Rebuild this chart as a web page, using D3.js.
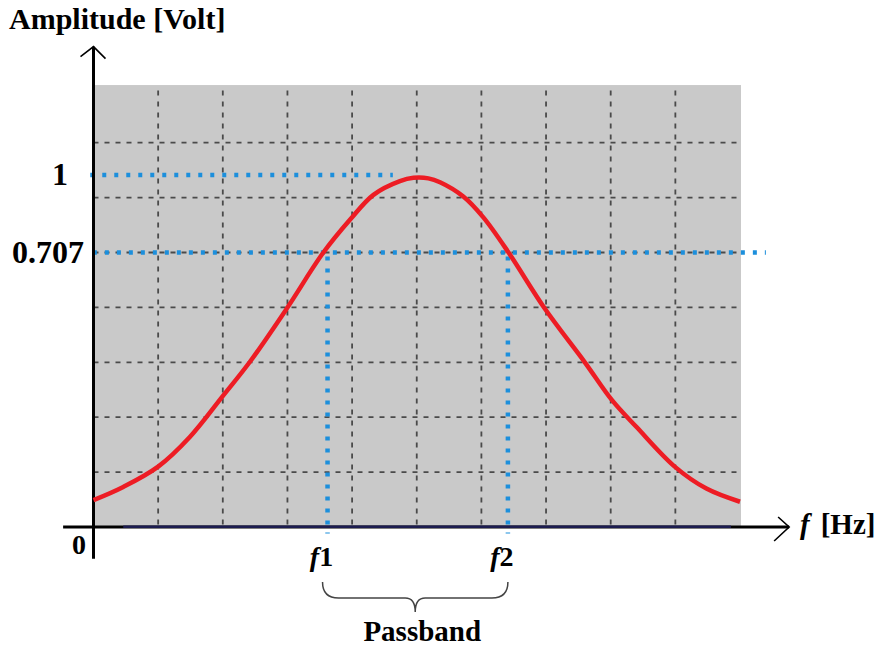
<!DOCTYPE html>
<html>
<head>
<meta charset="utf-8">
<script src="https://cdn.jsdelivr.net/npm/d3@7"></script>
<style>
  html, body { margin: 0; padding: 0; background: #ffffff; }
  svg { display: block; }
  text { font-family: "Liberation Serif", "Times New Roman", serif; font-weight: bold; fill: #000; }
</style>
</head>
<body>
<script>
// ---- data (grid units: 1 unit = one grid cell) ----
const curveX = [0, 0.46, 1.0, 1.49, 1.99, 2.42, 2.99, 3.55, 3.97, 4.33, 4.74, 4.95, 5.18, 5.36, 5.72, 6.03, 6.42, 6.98, 7.60, 8.02, 8.40, 8.99, 9.48, 10.0];
const curveY = [0.49, 0.73, 1.10, 1.64, 2.37, 3.01, 3.98, 4.99, 5.60, 6.05, 6.30, 6.36, 6.35, 6.28, 6.02, 5.64, 5.0, 3.98, 3.00, 2.31, 1.82, 1.10, 0.70, 0.46];
const xGridTicks = [1, 2, 3, 4, 5, 6, 7, 8, 9];
const yGridTicks = [1, 2, 3, 4, 5, 6, 7];
const yTickLabels = ["1", "0.707"];
const yTickLevels = [6.41, 5.0];
const fLabels = ["1", "2"];
const fPositions = [3.62, 6.41];
const peakX = 4.63;

const W = 882, H = 648;
const svg = d3.select("body").append("svg").attr("width", W).attr("height", H);

const x = d3.scaleLinear().domain([0, 10]).range([93.5, 740]);
const y = d3.scaleLinear().domain([0, 8]).range([527, 87.8]);

// gray plotting area
svg.append("rect")
  .attr("x", x(0)).attr("y", y(8.05))
  .attr("width", x(10) - x(0) + 1).attr("height", y(0) - y(8.05))
  .attr("fill", "#c9c9c9");

// grid
const grid = svg.append("g").attr("stroke", "#4a4a4a").attr("stroke-width", 1.8).attr("stroke-dasharray", "5,6");
grid.selectAll("line.v").data(xGridTicks).join("line").attr("class", "v")
  .attr("x1", d => x(d)).attr("x2", d => x(d))
  .attr("y1", y(7.95)).attr("y2", y(0));
grid.selectAll("line.h").data(yGridTicks).join("line").attr("class", "h")
  .attr("x1", x(0)).attr("x2", x(10))
  .attr("y1", d => y(d)).attr("y2", d => y(d));

// blue dotted reference lines
const blue = svg.append("g").attr("stroke", "#1c8fdc").attr("stroke-width", 4.5).attr("stroke-dasharray", "4,8").attr("fill", "none");
blue.append("line").attr("x1", x(-0.05)).attr("x2", x(peakX)).attr("y1", y(yTickLevels[0])).attr("y2", y(yTickLevels[0]));
blue.append("line").attr("x1", x(-0.01)).attr("x2", x(10.4)).attr("y1", y(yTickLevels[1])).attr("y2", y(yTickLevels[1]));
blue.selectAll("line.f").data(fPositions).join("line").attr("class", "f")
  .attr("x1", d => x(d)).attr("x2", d => x(d))
  .attr("y1", y(yTickLevels[1]) + 4).attr("y2", y(-0.12));

// axes
const axes = svg.append("g").attr("stroke", "#000").attr("fill", "none");
axes.append("line").attr("x1", x(-0.47)).attr("x2", x(10.76)).attr("y1", y(0)).attr("y2", y(0)).attr("stroke-width", 3);
axes.append("line").attr("x1", x(0.46)).attr("x2", x(9.86)).attr("y1", y(0) - 0.3).attr("y2", y(0) - 0.3)
  .attr("stroke", "#1c1c50").attr("stroke-width", 2.6);
axes.append("line").attr("x1", x(0)).attr("x2", x(0)).attr("y1", y(-0.58)).attr("y2", y(8.75)).attr("stroke-width", 3);
// arrowheads
axes.append("path").attr("stroke-width", 1.6)
  .attr("d", `M${x(0) - 13},${y(8.75) + 10} L${x(0)},${y(8.75)} L${x(0) + 12},${y(8.75) + 12}`);
axes.append("path").attr("stroke-width", 1.6)
  .attr("d", `M${x(10.76) - 11},${y(0) - 10} L${x(10.76)},${y(0)} L${x(10.76) - 15},${y(0) + 14}`);

// curve
const line = d3.line().x(d => x(d[0])).y(d => y(d[1])).curve(d3.curveCatmullRom.alpha(0.5));
svg.append("path").datum(curveX.map((v, i) => [v, curveY[i]]))
  .attr("d", line).attr("fill", "none").attr("stroke", "#ed1c24").attr("stroke-width", 4.5)
  .attr("stroke-linejoin", "round");

// texts
svg.append("text").attr("x", 9).attr("y", 29).attr("font-size", 30).text("Amplitude [Volt]");
svg.selectAll("text.yl").data(yTickLabels).join("text").attr("class", "yl")
  .attr("x", (d, i) => i === 0 ? 68 : 84)
  .attr("y", (d, i) => y(yTickLevels[i]) + 10)
  .attr("text-anchor", "end").attr("font-size", 32).text(d => d);
svg.append("text").attr("x", 86).attr("y", 554).attr("text-anchor", "end").attr("font-size", 28).text("0");

const fl = svg.selectAll("text.fl").data(fLabels).join("text").attr("class", "fl")
  .attr("x", (d, i) => x(fPositions[i]) - 6).attr("y", 566)
  .attr("text-anchor", "middle").attr("font-size", 28);
fl.append("tspan").attr("font-style", "italic").text("f");
fl.append("tspan").text(d => d);

const ax = svg.append("text").attr("x", 800).attr("y", 534).attr("font-size", 29);
ax.append("tspan").attr("font-style", "italic").text("f");
ax.append("tspan").attr("dx", 11).text("[Hz]");

// brace
const bx1 = x(fPositions[0]) - 5, bx2 = x(fPositions[1]), bm = (bx1 + bx2) / 2;
const bt = 582, bh = 598, bp = 612;
svg.append("path").attr("fill", "none").attr("stroke", "#444").attr("stroke-width", 1.5)
  .attr("d", `M${bx1},${bt} Q${bx1},${bh} ${bx1 + 16},${bh} L${bm - 10},${bh} Q${bm},${bh} ${bm},${bp} Q${bm},${bh} ${bm + 10},${bh} L${bx2 - 16},${bh} Q${bx2},${bh} ${bx2},${bt}`);
svg.append("text").attr("x", bm + 7).attr("y", 641).attr("text-anchor", "middle").attr("font-size", 29).text("Passband");
</script>
</body>
</html>
